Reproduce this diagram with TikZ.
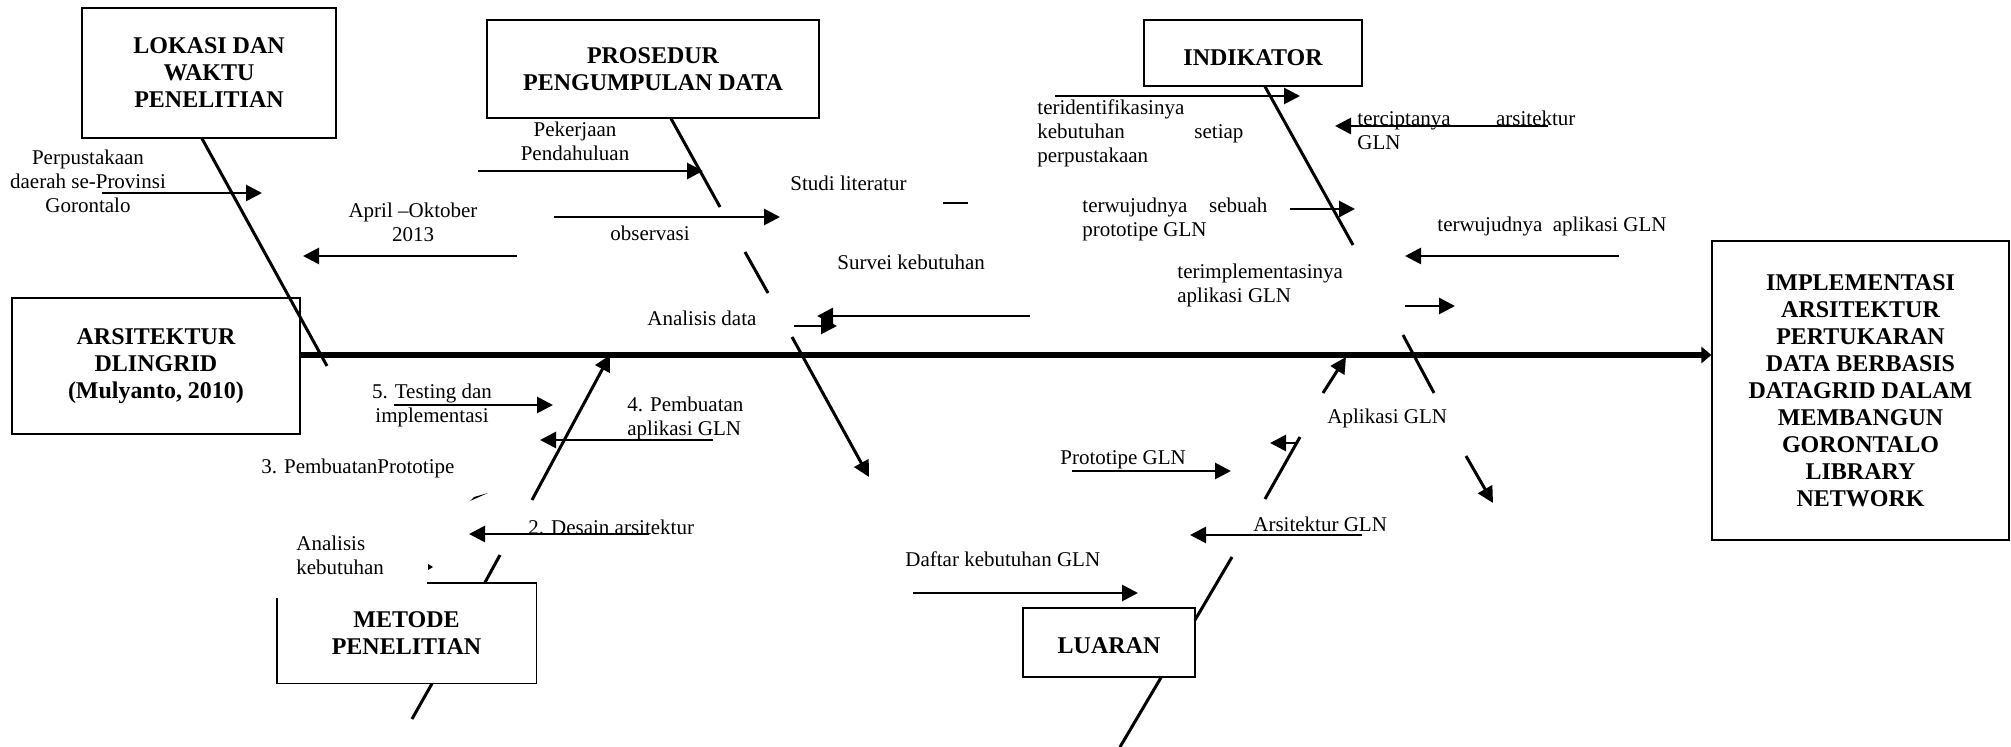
\documentclass[tikz,border=0pt]{standalone}
\usepackage{fontspec}
\setmainfont{Liberation Serif}
\usetikzlibrary{arrows.meta}

\tikzset{
  kotak/.style={draw, line width=0.6pt, inner sep=0pt, align=center,
    font=\bfseries\fontsize{12}{13.5}\selectfont},
  ket/.style={inner sep=0pt, align=left, font=\fontsize{10.5}{12}\selectfont},
  tulang/.style={line width=1.5pt},
  panah/.style={line width=1.4pt, ->},
}

\begin{document}
\begin{tikzpicture}[x=0.5pt, y=-0.5pt, >={Triangle[length=8pt,width=8pt]}]
  \useasboundingbox (0,0) rectangle (2011,747);

  % kotak
  \node (lokasi) at (209,73) [kotak, minimum width=127pt, minimum height=65pt] {LOKASI DAN\\WAKTU\\PENELITIAN};
  \node (prosedur) at (653,69) [kotak, minimum width=166pt, minimum height=49pt] {PROSEDUR\\PENGUMPULAN DATA};
  \node (indikator) at (1253,53) [kotak, minimum width=109pt, minimum height=33pt, text height=13pt] {INDIKATOR};
  \node (dlingrid) at (156,366) [kotak, minimum width=144pt, minimum height=68pt] {ARSITEKTUR\\DLINGRID\\(Mulyanto, 2010)};
  \node (hasil) at (1860.5,390.5) [kotak, minimum width=148.5pt, minimum height=149.5pt] {IMPLEMENTASI\\ARSITEKTUR\\PERTUKARAN\\DATA BERBASIS\\DATAGRID DALAM\\MEMBANGUN\\GORONTALO\\LIBRARY\\NETWORK};
  \node (metode) at (406.5,633) [kotak, draw=none, minimum width=129.5pt, minimum height=50pt] {METODE\\PENELITIAN};
  \draw [line width=0.6pt] (427,583) -| (metode.south east) -| (277,598);
  \node (luaran) at (1109,642.5) [kotak, minimum width=86pt, minimum height=34.5pt, text height=11pt] {LUARAN};

  % tulang utama
  \coordinate (kepala) at (300,355);
  \draw [line width=2.6pt, -{Triangle[length=5pt,width=8pt]}] (kepala) -- (kepala -| hasil.west);

  % tulang atas
  \draw [tulang] (lokasi.south) ++(-7,0) -- (327,366);
  \draw [tulang] (prosedur.south) ++(18,0) -- (720,207) (745,252) -- (768,293);
  \draw [tulang, ->] (792,337) -- (869,477);
  \draw [tulang] (indikator.south) ++(12,0) -- (1353,245) (1403,335) -- (1434,393);
  \draw [tulang, ->] (1466,456) -- (1493,503);

  % tulang bawah
  \draw [tulang] (metode.south) ++(25.5,0) -- (412,719);
  \draw [tulang] (metode.north) ++(78.5,0) -- (500,555);
  \draw [tulang, ->] (532,500) -- (610,355);
  \fill (470,501) -- (488,493) -- (474,497) -- cycle;
  \fill (428,564) -- (433,567) -- (428,570) -- cycle;
  \draw [tulang] (luaran.south) ++(52,0) -- (1120,747);
  \draw [tulang] (1195,620) -- (1232,557);
  \draw [tulang] (1265,499) -- (1300,437);
  \draw [tulang, ->] (1323,393) -- (1346,357);

  % keterangan
  \node (perpus) at (88,181) [ket, align=center] {Perpustakaan\\daerah se-Provinsi\\Gorontalo};
  \node (waktu) at (413,222) [ket, align=center] {April --Oktober\\2013};
  \node (pekerjaan) at (575,141) [ket, align=center] {Pekerjaan\\Pendahuluan};
  \node (studi) at (790,183) [ket, anchor=west] {Studi literatur};
  \node (observasi) at (650,233) [ket] {observasi};
  \node (survei) at (837,262) [ket, anchor=west] {Survei kebutuhan};
  \node (analisisdata) at (647,318) [ket, anchor=west] {Analisis data};
  \node (identifikasi) at (1037,133) [ket, anchor=west, text width=103pt, align=justify] {teridentifikasinya\\kebutuhan\hfill setiap\\perpustakaan};
  \node (tercipta) at (1357,130) [ket, anchor=west, text width=109pt, align=justify] {terciptanya\hfill arsitektur\\GLN};
  \node (wujudproto) at (1082,219) [ket, anchor=west, text width=92.5pt, align=justify] {terwujudnya\hfill sebuah\\prototipe GLN};
  \node (implementasi) at (1177,285) [ket, anchor=west] {terimplementasinya\\aplikasi GLN};
  \node (wujudapl) at (1437,226) [ket, anchor=west] {terwujudnya\ \ aplikasi GLN};
  \node (aplikasigln) at (1327,418) [ket, anchor=west] {Aplikasi GLN};
  \node (testing) at (432,405) [ket, align=center] {5. Testing dan\\implementasi};
  \node (pembuatanapl) at (627,418) [ket, anchor=west] {4. Pembuatan\\aplikasi GLN};
  \node (pembuatanpro) at (261,468) [ket, anchor=west] {3. PembuatanPrototipe};
  \node (desain) at (528,527) [ket, anchor=west] {2. Desain arsitektur};
  \node (analisiskeb) at (296,555) [ket, anchor=west] {Analisis\\kebutuhan};
  \node (prototipegln) at (1060,460) [ket, anchor=west] {Prototipe GLN};
  \node (arsitekturgln) at (1253,524) [ket, anchor=west] {Arsitektur GLN};
  \node (daftar) at (905,559) [ket, anchor=west] {Daftar kebutuhan GLN};

  % panah kecil
  \draw [panah] (102,193) -- (262,193);
  \draw [panah] (517,256) -- (303,256);
  \draw [panah] (478,171) -- (703,171);
  \draw [panah] (554,217) -- (780,217);
  \draw [line width=1.4pt] (943,203) -- (968,203);
  \draw [panah] (1030,316) -- (817,316);
  \draw [panah] (794,326) -- (837,326);
  \draw [panah] (1055,96) -- (1300,96);
  \draw [panah] (1548,126) -- (1335,126);
  \draw [panah] (1290,209) -- (1355,209);
  \draw [panah] (1619,256) -- (1405,256);
  \draw [panah] (1405,306) -- (1455,306);
  \draw [panah] (394,405) -- (553,405);
  \draw [panah] (713,440) -- (540,440);
  \draw [panah] (649,534) -- (469,534);
  \draw [panah] (1072,471) -- (1231,471);
  \draw [panah] (1362,535) -- (1190,535);
  \draw [panah] (913,593) -- (1138,593);
  \draw [panah] (1298,443) -- (1270,443);
\end{tikzpicture}
\end{document}
